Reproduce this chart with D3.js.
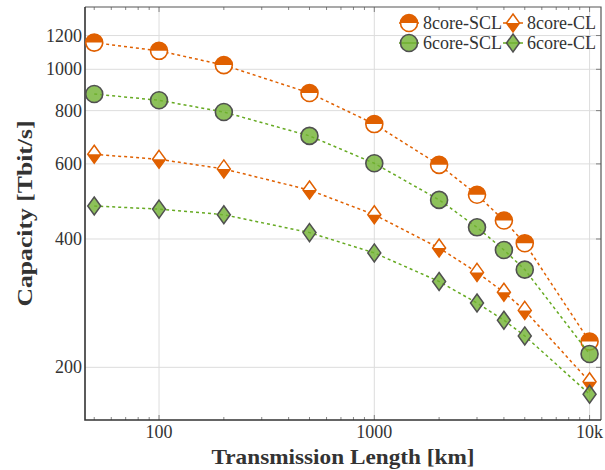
<!DOCTYPE html>
<html>
<head>
<meta charset="utf-8">
<script src="https://cdn.jsdelivr.net/npm/d3@7"></script>
<style>
  body { margin: 0; background: #fff; }
  svg text { font-family: "Liberation Serif", "DejaVu Serif", serif; fill: #333; }
</style>
</head>
<body>
<div class="chart"></div>
<script>
// transmission lengths (km)
var lengths = [50, 100, 200, 500, 1000, 2000, 3000, 4000, 5000, 10000];

// capacity in Tbit/s
var scl8 = [1155, 1105, 1023, 880, 744, 597, 508, 442, 391, 230];
var cl8  = [632, 615, 584, 521, 456, 381, 334, 300, 272, 185];
var scl6 = [875, 846, 794, 698, 602, 494, 426, 377, 339, 215];
var cl6  = [478, 470, 456, 414, 371, 318, 283, 258, 237, 173];

var seriesNames = ["8core-SCL", "8core-CL", "6core-SCL", "6core-CL"];
var xTicks = [100, 1000, 10000];
var xTickLabels = ["100", "1000", "10k"];
var yTicks = [200, 400, 600, 800, 1000, 1200];

var W = 605, H = 470;
var margin = {left: 85, right: 4, top: 7, bottom: 50};

var orange = "#e06000", green = "#66aa22", greenFill = "#70b131", grey = "#505050";

var svg = d3.select('.chart').append('svg')
  .attr('width', W)
  .attr('height', H);

var x = d3.scaleLog().domain([45.3, 11300]).range([margin.left, W - margin.right]);
var y = d3.scaleLog().domain([150.5, 1400]).range([H - margin.bottom, margin.top]);

var x0 = x.range()[0], x1 = x.range()[1], y0 = y.range()[0], y1 = y.range()[1];

// grid
var grid = svg.append('g');
grid.selectAll('.gx').data(xTicks).enter().append('line')
  .attr('x1', d => x(d)).attr('x2', d => x(d))
  .attr('y1', y1).attr('y2', y0)
  .style('stroke', '#ddd').style('stroke-width', 1);
grid.selectAll('.gy').data(yTicks).enter().append('line')
  .attr('x1', x0).attr('x2', x1)
  .attr('y1', d => y(d)).attr('y2', d => y(d))
  .style('stroke', '#ddd').style('stroke-width', 1);

// minor ticks, inside, top and bottom
var minor = [];
[10, 100, 1000].forEach(function(dec){
  for (var k = 2; k <= 9; k++) {
    var v = k * dec;
    if (v > 45.3 && v < 11300 && xTicks.indexOf(v) < 0) minor.push(v);
  }
});
var ticks = svg.append('g').style('stroke', '#666').style('stroke-width', 0.8);
minor.forEach(function(v){
  ticks.append('line').attr('x1', x(v)).attr('x2', x(v)).attr('y1', y0).attr('y2', y0 - 3);
  ticks.append('line').attr('x1', x(v)).attr('x2', x(v)).attr('y1', y1).attr('y2', y1 + 3);
});
xTicks.forEach(function(v){
  ticks.append('line').attr('x1', x(v)).attr('x2', x(v)).attr('y1', y0).attr('y2', y0 - 5);
  ticks.append('line').attr('x1', x(v)).attr('x2', x(v)).attr('y1', y1).attr('y2', y1 + 5);
});
yTicks.forEach(function(v){
  ticks.append('line').attr('x1', x1).attr('x2', x1 - 5).attr('y1', y(v)).attr('y2', y(v));
});

// frame
svg.append('path')
  .attr('d', 'M' + x0 + ',' + y1 + 'H' + x1 + 'V' + y0)
  .style('fill', 'none').style('stroke', '#555').style('stroke-width', 1.2);
svg.append('path')
  .attr('d', 'M' + x0 + ',' + y1 + 'V' + y0 + 'H' + x1)
  .style('fill', 'none').style('stroke', '#333').style('stroke-width', 1.6);

// tick labels
svg.selectAll('.xl').data(xTicks).enter().append('text')
  .attr('x', d => x(d)).attr('y', y0 + 18)
  .attr('text-anchor', 'middle')
  .style('font-size', '18px')
  .text((d, i) => xTickLabels[i]);
svg.selectAll('.yl').data(yTicks).enter().append('text')
  .attr('x', x0 - 3).attr('y', d => y(d) + 6)
  .attr('text-anchor', 'end')
  .style('font-size', '18px')
  .text(d => d);

// axis titles
svg.append('text')
  .attr('x', (x0 + x1) / 2).attr('y', 464)
  .attr('text-anchor', 'middle')
  .attr('textLength', 263).attr('lengthAdjust', 'spacingAndGlyphs')
  .style('font-size', '21px').style('font-weight', 'bold')
  .text('Transmission Length [km]');
svg.append('text')
  .attr('transform', 'translate(32,' + ((y0 + y1) / 2) + ') rotate(-90)')
  .attr('text-anchor', 'middle')
  .attr('textLength', 186).attr('lengthAdjust', 'spacingAndGlyphs')
  .style('font-size', '21px').style('font-weight', 'bold')
  .text('Capacity [Tbit/s]');

// markers
function drawMarker(g, type, cx, cy) {
  var m = g.append('g').attr('transform', 'translate(' + cx + ',' + cy + ')');
  var r = 8.5, w = 6.5, h = 9;
  if (type === 'halfCircle') {
    m.append('circle').attr('r', r).style('fill', '#fff').style('stroke', orange).style('stroke-width', 1.6);
    m.append('path').attr('d', 'M' + (-r) + ',0A' + r + ',' + r + ' 0 0 1 ' + r + ',0Z').style('fill', orange);
  } else if (type === 'halfDiamond') {
    m.append('path').attr('d', 'M0,' + (-h) + 'L' + w + ',0L0,' + h + 'L' + (-w) + ',0Z')
      .style('fill', '#fff').style('stroke', orange).style('stroke-width', 1.5);
    m.append('path').attr('d', 'M' + (-w) + ',0L' + w + ',0L0,' + h + 'Z').style('fill', orange);
  } else if (type === 'circle') {
    m.append('circle').attr('r', r).style('fill', greenFill).style('fill-opacity', 0.8)
      .style('stroke', grey).style('stroke-width', 1.6);
  } else {
    m.append('path').attr('d', 'M0,' + (-h) + 'L' + w + ',0L0,' + h + 'L' + (-w) + ',0Z')
      .style('fill', greenFill).style('fill-opacity', 0.8)
      .style('stroke', grey).style('stroke-width', 1.5);
  }
}

var series = [
  {name: seriesNames[0], values: scl8, color: orange, marker: 'halfCircle'},
  {name: seriesNames[1], values: cl8, color: orange, marker: 'halfDiamond'},
  {name: seriesNames[2], values: scl6, color: green, marker: 'circle'},
  {name: seriesNames[3], values: cl6, color: green, marker: 'diamond'}
];

var line = d3.line().x(d => x(d[0])).y(d => y(d[1]));

series.forEach(function(s){
  var pts = lengths.map((L, i) => [L, s.values[i]]);
  var g = svg.append('g');
  g.append('path').attr('d', line(pts))
    .style('fill', 'none').style('stroke', s.color)
    .style('stroke-width', 1.5).style('stroke-dasharray', '3,3');
  pts.forEach(function(p){ drawMarker(g, s.marker, x(p[0]), y(p[1])); });
});

// legend (2 columns)
var legPos = [[409, 23], [513, 23], [409, 43], [513, 43]];
series.forEach(function(s, i){
  var lx = legPos[i][0], ly = legPos[i][1];
  var g = svg.append('g');
  g.append('line').attr('x1', lx - 10).attr('x2', lx + 10).attr('y1', ly).attr('y2', ly)
    .style('stroke', s.color).style('stroke-width', 1.5);
  drawMarker(g, s.marker, lx, ly);
  g.append('text').attr('x', lx + 14).attr('y', ly + 6)
    .style('font-size', '18px').text(s.name);
});
</script>
</body>
</html>
